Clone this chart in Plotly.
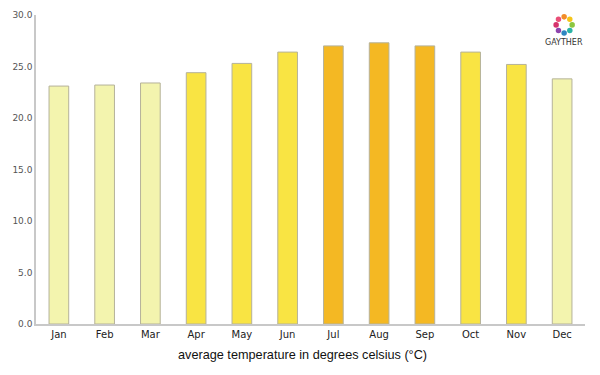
import plotly.graph_objects as go
import math

months = ["Jan", "Feb", "Mar", "Apr", "May", "Jun", "Jul", "Aug", "Sep", "Oct", "Nov", "Dec"]
temps = [23.1, 23.2, 23.4, 24.4, 25.3, 26.4, 27.0, 27.3, 27.0, 26.4, 25.2, 23.8]
levels = ["low", "low", "low", "mid", "mid", "mid", "high", "high", "high", "mid", "mid", "low"]
palette = {"low": "#F3F4AE", "mid": "#F9E443", "high": "#F4B823"}
y_ticks = [0, 5, 10, 15, 20, 25, 30]

fig = go.Figure()
fig.add_trace(go.Bar(
    x=months, y=temps,
    marker=dict(color=[palette[l] for l in levels], line=dict(color="#B5B29A", width=1)),
    width=0.43,
))

# logo decoration
logo_colors = ["#F28C28", "#F5C518", "#8CC63F", "#2BB3A6", "#2E86C1", "#8E44AD", "#D6336C", "#E94E77"]
for i, c in enumerate(logo_colors):
    a = math.pi / 2 - 2 * math.pi * i / len(logo_colors)
    cx = 0.962 + 0.0146 * math.cos(a)
    cy = 0.968 + 0.026 * math.sin(a)
    fig.add_shape(type="circle", xref="paper", yref="paper",
                  x0=cx - 0.005, x1=cx + 0.005, y0=cy - 0.009, y1=cy + 0.009,
                  fillcolor=c, line=dict(width=0))
fig.add_annotation(x=0.962, y=0.91, xref="paper", yref="paper", yanchor="middle",
                   xanchor="center", text="GAYTHER", showarrow=False,
                   font=dict(family="DejaVu Sans", size=8, color="#333"))

fig.update_layout(
    width=600, height=375,
    margin=dict(l=28, r=23, t=7, b=59),
    paper_bgcolor="white", plot_bgcolor="white",
    showlegend=False,
    bargap=0.57,
    font=dict(family="DejaVu Sans"),
    xaxis=dict(showline=True, linecolor="#C8C8C8", linewidth=1.5, ticks="",
               tickfont=dict(size=10, color="#222", family="DejaVu Sans"),
               showgrid=False, automargin=False),
    yaxis=dict(range=[0, 30], tickvals=y_ticks, ticktext=[f"{v:.1f}" for v in y_ticks],
               showline=True, linecolor="#C8C8C8", linewidth=1.5, showgrid=False,
               zeroline=False, ticks="", tickfont=dict(size=9, color="#555"),
               automargin=False),
)
fig.add_annotation(x=0.485, y=-0.1, xref="paper", yref="paper", yanchor="middle",
                   text="average temperature in degrees celsius (°C)", showarrow=False,
                   font=dict(family="Liberation Sans", size=12.7, color="#111"))

fig.write_html("out.html")
